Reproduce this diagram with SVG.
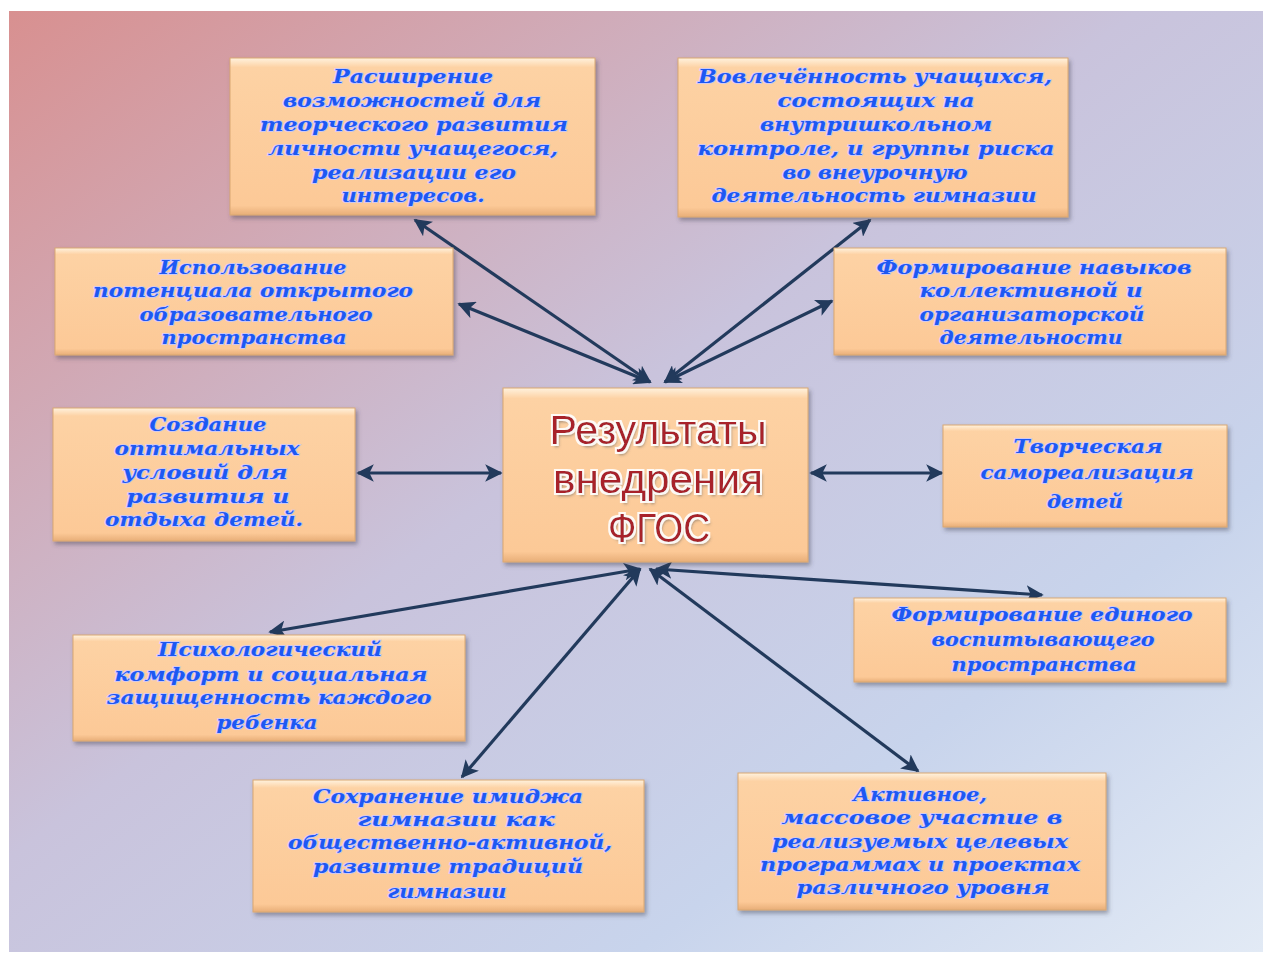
<svg xmlns="http://www.w3.org/2000/svg" width="1270" height="957" viewBox="0 0 1270 957">
<defs>
<linearGradient id="bg" x1="0" y1="0" x2="1" y2="1">
<stop offset="0" stop-color="#d89090"/>
<stop offset="0.45" stop-color="#c9c3dc"/>
<stop offset="0.75" stop-color="#c8d4ec"/>
<stop offset="1" stop-color="#e2eaf5"/>
</linearGradient>
<linearGradient id="box" x1="0" y1="0" x2="0" y2="1">
<stop offset="0" stop-color="#fff2de"/>
<stop offset="0.06" stop-color="#fdd2a4"/>
<stop offset="0.94" stop-color="#fcc997"/>
<stop offset="1" stop-color="#e8ae78"/>
</linearGradient>
<filter id="sh" x="-10%" y="-10%" width="120%" height="130%">
<feDropShadow dx="2" dy="3" stdDeviation="2" flood-color="#404050" flood-opacity="0.45"/>
</filter>
<filter id="tsh" x="-10%" y="-20%" width="120%" height="140%">
<feMorphology in="SourceAlpha" operator="dilate" radius="1.5" result="d"/>
<feFlood flood-color="#ffffff" flood-opacity="0.9"/>
<feComposite in2="d" operator="in" result="w"/>
<feOffset in="SourceAlpha" dx="2" dy="3" result="o"/>
<feGaussianBlur in="o" stdDeviation="1.5" result="ob"/>
<feFlood flood-color="#555" flood-opacity="0.6"/>
<feComposite in2="ob" operator="in" result="g"/>
<feMerge><feMergeNode in="g"/><feMergeNode in="w"/><feMergeNode in="SourceGraphic"/></feMerge>
</filter>
<marker id="ah" viewBox="0 0 10 10" refX="9" refY="5" markerWidth="5.5" markerHeight="5.5" orient="auto-start-reverse" markerUnits="strokeWidth">
<path d="M0,0 L10,5 L0,10 L2.5,5 Z" fill="#223a5c"/>
</marker>
<style>
.b{fill:url(#box);stroke:#d9a873;stroke-width:1;filter:url(#sh)}
.t{font-family:"DejaVu Serif","Liberation Serif",serif;font-style:italic;font-weight:bold;font-size:18px;fill:#1d58f2;stroke:#c9c8ff;stroke-width:1.6;paint-order:stroke;text-anchor:middle}
.c{font-family:"Liberation Sans","Open Sans",sans-serif;font-size:40px;fill:#a8222c;text-anchor:middle;filter:url(#tsh)}
.a{stroke:#223a5c;stroke-width:3.2;fill:none;marker-start:url(#ah);marker-end:url(#ah)}
</style>
</defs>
<rect x="0" y="0" width="1270" height="957" fill="#ffffff"/>
<rect x="9" y="11" width="1254" height="941" fill="url(#bg)"/>

<g id="connectors">
<line class="a" x1="415" y1="220" x2="650" y2="382"/>
<line class="a" x1="870" y1="220" x2="665" y2="382"/>
<line class="a" x1="459" y1="304" x2="650" y2="382"/>
<line class="a" x1="832" y1="301" x2="665" y2="382"/>
<line class="a" x1="358" y1="473" x2="501" y2="473"/>
<line class="a" x1="811" y1="473" x2="942" y2="473"/>
<line class="a" x1="270" y1="632" x2="640" y2="569"/>
<line class="a" x1="462" y1="777" x2="640" y2="569"/>
<line class="a" x1="918" y1="771" x2="650" y2="569"/>
<line class="a" x1="1042" y1="595" x2="656" y2="569"/>
</g>

<g id="n1">
<rect class="b" x="230" y="58" width="365" height="157"/>
<text class="t" x="413" y="83" textLength="160" lengthAdjust="spacingAndGlyphs">Расширение</text>
<text class="t" x="412" y="107" textLength="258" lengthAdjust="spacingAndGlyphs">возможностей  для</text>
<text class="t" x="414" y="131" textLength="308" lengthAdjust="spacingAndGlyphs">теорческого  развития</text>
<text class="t" x="413" y="155" textLength="290" lengthAdjust="spacingAndGlyphs">личности  учащегося,</text>
<text class="t" x="414" y="179" textLength="204" lengthAdjust="spacingAndGlyphs">реализации  его</text>
<text class="t" x="413" y="202" textLength="143" lengthAdjust="spacingAndGlyphs">интересов.</text>
</g>

<g id="n2">
<rect class="b" x="678" y="58" width="390" height="159"/>
<text class="t" x="875" y="83" textLength="354" lengthAdjust="spacingAndGlyphs">Вовлечённость  учащихся,</text>
<text class="t" x="876" y="107" textLength="197" lengthAdjust="spacingAndGlyphs">состоящих  на</text>
<text class="t" x="876" y="131" textLength="232" lengthAdjust="spacingAndGlyphs">внутришкольном</text>
<text class="t" x="876" y="155" textLength="357" lengthAdjust="spacingAndGlyphs">контроле,  и группы риска</text>
<text class="t" x="875" y="179" textLength="185" lengthAdjust="spacingAndGlyphs">во внеурочную</text>
<text class="t" x="874" y="202" textLength="325" lengthAdjust="spacingAndGlyphs">деятельность  гимназии</text>
</g>

<g id="n3">
<rect class="b" x="55" y="248" width="398" height="107"/>
<text class="t" x="253" y="274" textLength="187" lengthAdjust="spacingAndGlyphs">Использование</text>
<text class="t" x="253" y="297" textLength="320" lengthAdjust="spacingAndGlyphs">потенциала  открытого</text>
<text class="t" x="256" y="321" textLength="233" lengthAdjust="spacingAndGlyphs">образовательного</text>
<text class="t" x="254" y="344" textLength="185" lengthAdjust="spacingAndGlyphs">пространства</text>
</g>

<g id="n4">
<rect class="b" x="834" y="248" width="392" height="107"/>
<text class="t" x="1034" y="274" textLength="315" lengthAdjust="spacingAndGlyphs">Формирование  навыков</text>
<text class="t" x="1031" y="297" textLength="223" lengthAdjust="spacingAndGlyphs">коллективной  и</text>
<text class="t" x="1032" y="321" textLength="225" lengthAdjust="spacingAndGlyphs">организаторской</text>
<text class="t" x="1031" y="344" textLength="183" lengthAdjust="spacingAndGlyphs">деятельности</text>
</g>

<g id="n5">
<rect class="b" x="53" y="408" width="302" height="133"/>
<text class="t" x="208" y="431" textLength="117" lengthAdjust="spacingAndGlyphs">Создание</text>
<text class="t" x="207" y="455" textLength="185" lengthAdjust="spacingAndGlyphs">оптимальных</text>
<text class="t" x="205" y="479" textLength="165" lengthAdjust="spacingAndGlyphs">условий  для</text>
<text class="t" x="208" y="503" textLength="163" lengthAdjust="spacingAndGlyphs">развития  и</text>
<text class="t" x="204" y="526" textLength="198" lengthAdjust="spacingAndGlyphs">отдыха  детей.</text>
</g>

<g id="n6">
<rect class="b" x="503" y="388" width="305" height="174"/>
<text class="c" x="658" y="444" textLength="217" lengthAdjust="spacingAndGlyphs">Результаты</text>
<text class="c" x="658" y="493" textLength="210" lengthAdjust="spacingAndGlyphs">внедрения</text>
<text class="c" x="659" y="542" textLength="102" lengthAdjust="spacingAndGlyphs">ФГОС</text>
</g>

<g id="n7">
<rect class="b" x="943" y="425" width="284" height="102"/>
<text class="t" x="1088" y="453" textLength="149" lengthAdjust="spacingAndGlyphs">Творческая</text>
<text class="t" x="1087" y="479" textLength="213" lengthAdjust="spacingAndGlyphs">самореализация</text>
<text class="t" x="1085" y="508" textLength="76" lengthAdjust="spacingAndGlyphs">детей</text>
</g>

<g id="n8">
<rect class="b" x="854" y="598" width="372" height="84"/>
<text class="t" x="1042" y="621" textLength="301" lengthAdjust="spacingAndGlyphs">Формирование  единого</text>
<text class="t" x="1043" y="646" textLength="223" lengthAdjust="spacingAndGlyphs">воспитывающего</text>
<text class="t" x="1044" y="671" textLength="185" lengthAdjust="spacingAndGlyphs">пространства</text>
</g>

<g id="n9">
<rect class="b" x="73" y="635" width="392" height="106"/>
<text class="t" x="270" y="656" textLength="224" lengthAdjust="spacingAndGlyphs">Психологический</text>
<text class="t" x="271" y="681" textLength="313" lengthAdjust="spacingAndGlyphs">комфорт  и социальная</text>
<text class="t" x="269" y="704" textLength="325" lengthAdjust="spacingAndGlyphs">защищенность  каждого</text>
<text class="t" x="267" y="729" textLength="101" lengthAdjust="spacingAndGlyphs">ребенка</text>
</g>

<g id="n10">
<rect class="b" x="253" y="780" width="391" height="132"/>
<text class="t" x="448" y="803" textLength="270" lengthAdjust="spacingAndGlyphs">Сохранение  имиджа</text>
<text class="t" x="456" y="826" textLength="197" lengthAdjust="spacingAndGlyphs">гимназии  как</text>
<text class="t" x="450" y="849" textLength="324" lengthAdjust="spacingAndGlyphs">общественно-активной,</text>
<text class="t" x="448" y="873" textLength="270" lengthAdjust="spacingAndGlyphs">развитие  традиций</text>
<text class="t" x="447" y="898" textLength="119" lengthAdjust="spacingAndGlyphs">гимназии</text>
</g>

<g id="n11">
<rect class="b" x="738" y="773" width="368" height="137"/>
<text class="t" x="920" y="801" textLength="134" lengthAdjust="spacingAndGlyphs">Активное,</text>
<text class="t" x="922" y="824" textLength="281" lengthAdjust="spacingAndGlyphs">массовое  участие  в</text>
<text class="t" x="920" y="848" textLength="296" lengthAdjust="spacingAndGlyphs">реализуемых  целевых</text>
<text class="t" x="920" y="871" textLength="320" lengthAdjust="spacingAndGlyphs">программах  и проектах</text>
<text class="t" x="923" y="894" textLength="253" lengthAdjust="spacingAndGlyphs">различного  уровня</text>
</g>
</svg>
